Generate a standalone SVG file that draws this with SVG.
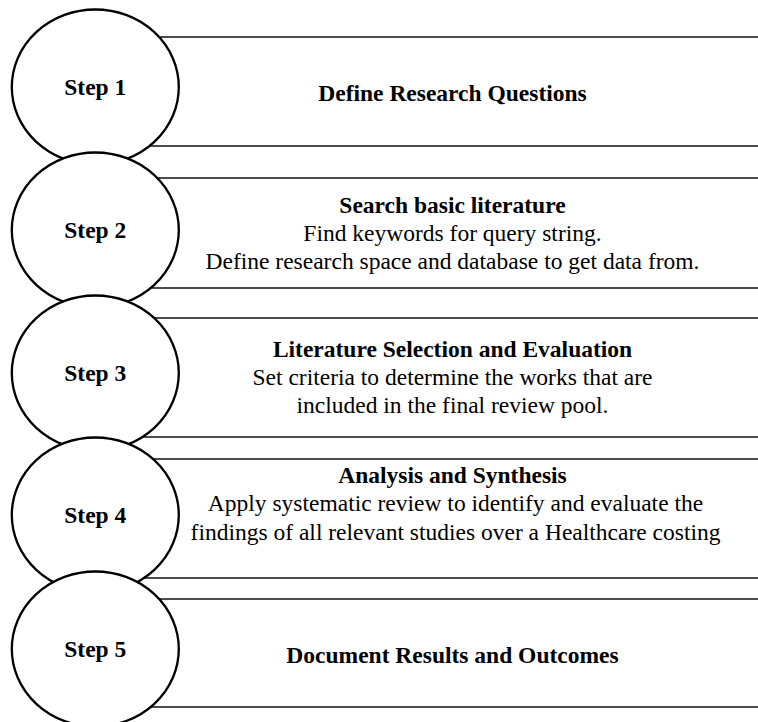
<svg xmlns="http://www.w3.org/2000/svg" width="758" height="722" viewBox="0 0 758 722">
<style>
.band{stroke:#111;stroke-width:1.4;fill:none}
.circ{fill:#fff;stroke:#000;stroke-width:2.3}
.t{font-family:"Liberation Serif","Times New Roman",serif;font-size:23.5px;fill:#000;text-anchor:middle}
.b{font-weight:bold}
</style>
<rect width="758" height="722" fill="#fff"/>
<g id="step1">
<line class="band" x1="95" y1="37" x2="758" y2="37"/>
<line class="band" x1="95" y1="146" x2="758" y2="146"/>
<ellipse class="circ" cx="95.3" cy="87" rx="83.5" ry="77.5"/>
<text class="t b" x="95.3" y="95">Step 1</text>
<text class="t b" x="452.5" y="101">Define Research Questions</text>
</g>
<g id="step2">
<line class="band" x1="95" y1="178" x2="758" y2="178"/>
<line class="band" x1="95" y1="288" x2="758" y2="288"/>
<ellipse class="circ" cx="95.3" cy="230" rx="83.5" ry="77.5"/>
<text class="t b" x="95.3" y="238">Step 2</text>
<text class="t b" x="452.5" y="212.5">Search basic literature</text>
<text class="t" x="452.5" y="240.5">Find keywords for query string.</text>
<text class="t" x="452.5" y="268.5">Define research space and database to get data from.</text>
</g>
<g id="step3">
<line class="band" x1="95" y1="318" x2="758" y2="318"/>
<line class="band" x1="95" y1="437" x2="758" y2="437"/>
<ellipse class="circ" cx="95.3" cy="373" rx="83.5" ry="77.5"/>
<text class="t b" x="95.3" y="381">Step 3</text>
<text class="t b" x="452.5" y="356.7">Literature Selection and Evaluation</text>
<text class="t" x="452.5" y="385">Set criteria to determine the works that are</text>
<text class="t" x="452.5" y="413.3">included in the final review pool.</text>
</g>
<g id="step4">
<line class="band" x1="95" y1="459" x2="758" y2="459"/>
<line class="band" x1="95" y1="578" x2="758" y2="578"/>
<ellipse class="circ" cx="95.3" cy="515" rx="83.5" ry="77.5"/>
<text class="t b" x="95.3" y="523">Step 4</text>
<text class="t b" x="452.5" y="482.7">Analysis and Synthesis</text>
<text class="t" x="455.5" y="511">Apply systematic review to identify and evaluate the</text>
<text class="t" x="455.5" y="539.5">findings of all relevant studies over a Healthcare costing</text>
</g>
<g id="step5">
<line class="band" x1="95" y1="599" x2="758" y2="599"/>
<line class="band" x1="95" y1="707" x2="758" y2="707"/>
<ellipse class="circ" cx="95.3" cy="649" rx="83.5" ry="77.5"/>
<text class="t b" x="95.3" y="657">Step 5</text>
<text class="t b" x="452.5" y="662.5">Document Results and Outcomes</text>
</g>
<g id="connectors"/>
</svg>
